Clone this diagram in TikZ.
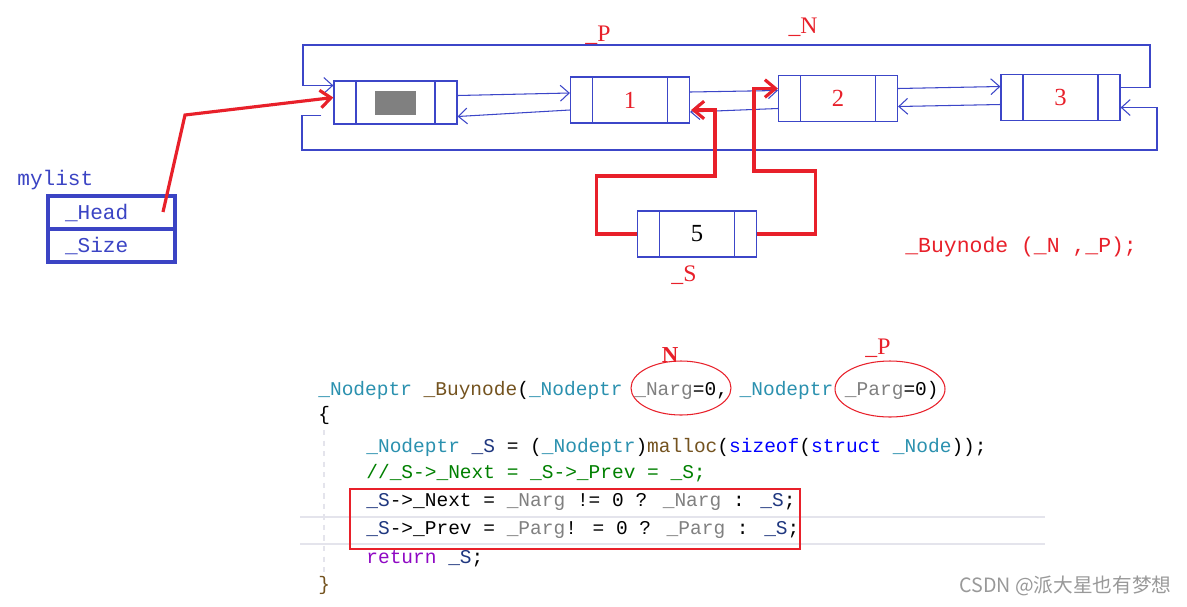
\documentclass[tikz,border=0pt]{standalone}
\usepackage{fontspec}
\usetikzlibrary{arrows.meta,calc}
\newfontfamily\codefont{Liberation Mono}
\newfontfamily\serf{Liberation Serif}
\newfontfamily\cjkfont{Noto Sans CJK SC}
\definecolor{bl}{HTML}{3C46C8}
\definecolor{mybl}{HTML}{3B44C4}
\definecolor{rd}{HTML}{E8202A}
\definecolor{cteal}{HTML}{2B91AF}
\definecolor{cbrn}{HTML}{74531F}
\definecolor{cgry}{HTML}{808080}
\definecolor{cblue}{HTML}{0000FF}
\definecolor{cgrn}{HTML}{008000}
\definecolor{cpur}{HTML}{8F08C4}
\definecolor{cnav}{HTML}{1F377F}
\definecolor{lgry}{HTML}{E4E4EC}
\newcommand{\cTeal}[1]{\textcolor{cteal}{#1}}
\newcommand{\cBrn}[1]{\textcolor{cbrn}{#1}}
\newcommand{\cGry}[1]{\textcolor{cgry}{#1}}
\newcommand{\cBlu}[1]{\textcolor{cblue}{#1}}
\newcommand{\cNav}[1]{\textcolor{cnav}{#1}}
\begin{document}
\begin{tikzpicture}[x=0.02cm,y=-0.02cm,
  lnode/.style={draw=bl, line width=0.7pt, minimum width=2.38cm, minimum height=0.92cm, inner sep=0pt,
    font=\serf\fontsize{14}{16}\selectfont,
    path picture={\draw[bl, line width=0.7pt]
      ([xshift=0.44cm]path picture bounding box.north west) -- ([xshift=0.44cm]path picture bounding box.south west)
      ([xshift=-0.44cm]path picture bounding box.north east) -- ([xshift=-0.44cm]path picture bounding box.south east);}},
  bline/.style={bl, line width=0.6pt},
  barrow/.style={bl, line width=0.6pt, -{Straight Barb[length=5pt,width=9pt]}},
  rline/.style={rd, line width=1.8pt},
  rarrow/.style={rd, line width=1.8pt, -{Straight Barb[length=6pt,width=10pt]}},
  cell/.style={draw=mybl, line width=1.8pt, minimum width=2.54cm, minimum height=0.66cm, text width=1.86cm,
    inner xsep=0.34cm, inner ysep=0pt, outer sep=0pt, align=left, font=\codefont\fontsize{12}{14}\selectfont, text=mybl},
  code/.style={anchor=west, inner sep=0pt, font=\codefont\fontsize{11.1}{12}\selectfont},
  lbl/.style={text=rd, font=\serf\fontsize{13.5}{15}\selectfont, inner sep=0pt}
]
\fill[white] (0,0) rectangle (1187,606);
\useasboundingbox (0,0) rectangle (1187,606);

% list nodes
\node[lnode, minimum width=2.46cm, minimum height=0.86cm] (head) at (395.5,102.5) {\textcolor{cgry}{\rule{0.82cm}{0.48cm}}};
\node[lnode, text=rd] (n1) at (630,100) {1};
\node[lnode, text=rd] (n2) at (838,98.5) {2};
\node[lnode, text=rd] (n3) at (1060.5,97.5) {3};
\node[lnode, text=black] (n5) at (697,234) {5};

% links
\draw[barrow] ($(head.east)+(0,-7)$) -- ($(n1.west)+(0,-7)$);
\draw[barrow] ($(n1.west)+(0,10)$) -- ($(head.east)+(0,14)$);
\draw[barrow] ($(n1.east)+(0,-8)$) -- ($(n2.west)+(0,-8)$);
\draw[barrow] ($(n2.west)+(0,10)$) -- ($(n1.east)+(0,12)$);
\draw[barrow] ($(n2.east)+(0,-10)$) -- ($(n3.west)+(0,-11)$);
\draw[barrow] ($(n3.west)+(0,7)$) -- ($(n2.east)+(0,8)$);

\coordinate (tr) at (1150,45);
\coordinate (tl) at (303,45);
\coordinate (bl0) at (302,150);
\coordinate (br) at (1157,150);
\draw[barrow] ($(n3.east)+(0,-10)$) -| (tr) -- (tl) |- ($(head.west)+(0,-17)$);
\draw[barrow] ($(head.west)+(-12,13)$) -| (bl0) -- (br) |- ($(n3.east)+(0,10)$);

\node[lbl] (lP) at (598,35) {\_P};
\node[lbl] (lN) at (803,27) {\_N};

% mylist
\node[anchor=west, inner sep=0pt, text=mybl, font=\codefont\fontsize{12}{14}\selectfont] (ml) at (17,180) {mylist};
\node[cell] (hcell) at (111.5,212.5) {\_Head};
\node[cell] (scell) at (111.5,245.5) {\_Size};

% red pointers
\coordinate (hp) at (163,212);
\coordinate (hk) at (185,115);
\draw[rarrow] (hp) -- (hk) -- ($(head.west)+(0,-5)$);
\draw[rarrow] (n5.west) -- ++(-40,0) |- (715,176) |- ($(n1.east)+(1,10)$);
\draw[rarrow] (n5.east) -- ++(58,0) |- (754,171) |- ($(n2.west)+(0,-10)$);

\node[lbl] (lS) at (684,275) {\_S};
\node[anchor=west, inner sep=0pt, text=rd, font=\codefont\fontsize{12.2}{14}\selectfont] (call) at (905,247) {\_Buynode (\_N ,\_P);};

% code
\draw[lgry, line width=1.2pt] (300,517) -- (1045,517);
\draw[lgry, line width=1.2pt] (300,544) -- (1045,544);
\draw[lgry, line width=0.6pt, dashed] (324,430) -- (324,576);
\node[code] (c1) at (318,390) {\cTeal{\_Nodeptr} \cBrn{\_Buynode}(\cTeal{\_Nodeptr} \cGry{\_Narg}=0, \cTeal{\_Nodeptr} \cGry{\_Parg}=0)};
\node[code] (c2) at (318,415) {\{};
\node[code] (c3) at (366,447) {\cTeal{\_Nodeptr} \cNav{\_S} = (\cTeal{\_Nodeptr})\cBrn{malloc}(\cBlu{sizeof}(\cBlu{struct} \cTeal{\_Node}));};
\node[code, text=cgrn] (c4) at (366,473) {//\_S->\_Next = \_S->\_Prev = \_S;};
\node[code] (c5) at (366,502) {\cNav{\_S}->\_Next = \cGry{\_Narg} != 0 ? \cGry{\_Narg} : \cNav{\_S};};
\node[code] (c6) at (366,530) {\cNav{\_S}->\_Prev = \cGry{\_Parg}! = 0 ? \cGry{\_Parg} : \cNav{\_S};};
\node[code] (c7) at (366,559) {\textcolor{cpur}{return} \cNav{\_S};};
\node[code, text=cbrn] (c8) at (318,585) {\}};

\draw[rd, line width=1.6pt] (350,489) rectangle (800,549);
\draw[rd, line width=0.6pt] (681,388) ellipse [x radius=50, y radius=27];
\draw[rd, line width=0.6pt] (890,389) ellipse [x radius=55, y radius=28];
\node[lbl, font=\serf\bfseries\fontsize{13}{15}\selectfont] (lN2) at (670,355) {N};
\node[lbl] (lP2) at (878,348) {\_P};

\node[anchor=east, inner sep=0pt, text=gray!80, font=\cjkfont\fontsize{11.2}{13}\selectfont] (wm) at (1172,586) {CSDN @派大星也有梦想};
\end{tikzpicture}
\end{document}
